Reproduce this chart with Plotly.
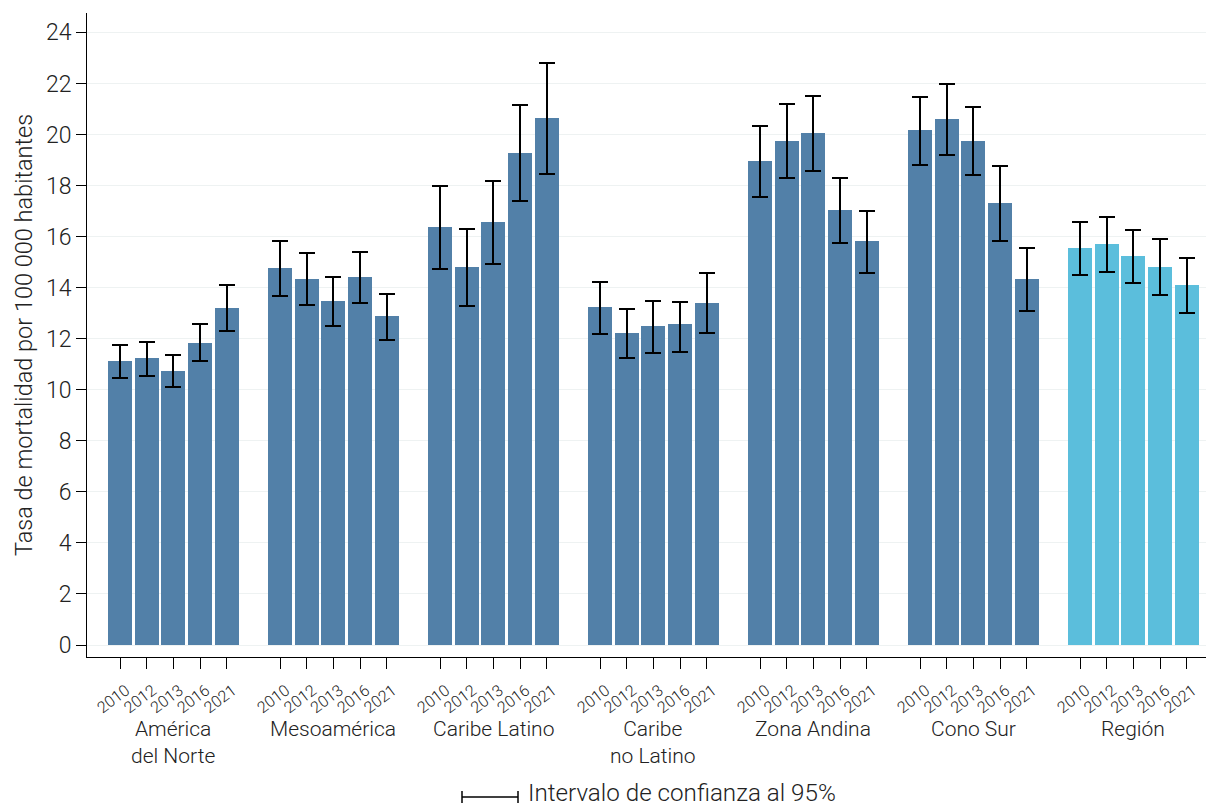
import plotly.graph_objects as go

groups = ["América<br>del Norte", "Mesoamérica", "Caribe Latino", "Caribe<br>no Latino",
          "Zona Andina", "Cono Sur", "Región"]
years = ["2010", "2012", "2013", "2016", "2021"]

rates = [
    [11.12, 11.24, 10.74, 11.84, 13.20],
    [14.76, 14.33, 13.47, 14.41, 12.88],
    [16.37, 14.80, 16.56, 19.26, 20.63],
    [13.23, 12.22, 12.49, 12.57, 13.39],
    [18.95, 19.73, 20.05, 17.03, 15.82],
    [20.16, 20.60, 19.73, 17.30, 14.33],
    [15.54, 15.70, 15.23, 14.80, 14.10],
]
upper = [
    [11.75, 11.88, 11.35, 12.56, 14.11],
    [15.83, 15.34, 14.41, 15.40, 13.77],
    [17.98, 16.30, 18.18, 21.14, 22.79],
    [14.23, 13.17, 13.48, 13.43, 14.58],
    [20.33, 21.19, 21.51, 18.30, 17.00],
    [21.47, 21.98, 21.07, 18.75, 15.56],
    [16.59, 16.77, 16.26, 15.90, 15.16],
]
lower = [
    [10.45, 10.55, 10.10, 11.11, 12.29],
    [13.69, 13.31, 12.50, 13.39, 11.95],
    [14.73, 13.29, 14.94, 17.40, 18.45],
    [12.20, 11.25, 11.45, 11.47, 12.23],
    [17.55, 18.30, 18.56, 15.75, 14.59],
    [18.81, 19.21, 18.40, 15.83, 13.08],
    [14.49, 14.63, 14.20, 13.70, 13.00],
]

DARK = "rgb(82,128,168)"
LIGHT = "rgb(91,190,220)"
FONT = "Roboto"
slot = len(years) + 1

fig = go.Figure()
tickvals, ticktext = [], []
for g, name in enumerate(groups):
    xs = [g * slot + j for j in range(len(years))]
    tickvals += xs
    ticktext += years
    fig.add_trace(go.Bar(
        x=xs, y=rates[g], width=0.9,
        marker=dict(color=LIGHT if g == len(groups) - 1 else DARK, line=dict(width=0)),
        error_y=dict(type="data", symmetric=False,
                     array=[u - r for u, r in zip(upper[g], rates[g])],
                     arrayminus=[r - l for r, l in zip(rates[g], lower[g])],
                     color="black", thickness=2, width=8),
        showlegend=False, hoverinfo="skip",
    ))
    fig.add_annotation(x=g * slot + (len(years) - 1) / 2, y=0, xref="x", yref="paper",
                       yshift=-58, yanchor="top", text=name, showarrow=False,
                       font=dict(family=FONT, size=21, color="#222", weight=300))

# legend for confidence interval
PW, PH = 1119, 644
ly = -140 / PH
fig.add_shape(type="line", xref="paper", yref="paper", x0=(462 - 87) / PW, x1=(518 - 87) / PW,
              y0=ly, y1=ly, line=dict(color="black", width=1.5))
for xp in (462, 518):
    fig.add_shape(type="line", xref="paper", yref="paper", x0=(xp - 87) / PW, x1=(xp - 87) / PW,
                  y0=-134 / PH, y1=-146 / PH, line=dict(color="black", width=1.5))
fig.add_annotation(x=(526 - 87) / PW, y=-136 / PH, xref="paper", yref="paper",
                   xanchor="left", yanchor="middle", showarrow=False,
                   text="Intervalo de confianza al 95%",
                   font=dict(family=FONT, size=24.2, color="#222", weight=300))

fig.update_layout(
    width=1206, height=806,
    margin=dict(l=87, r=0, t=13, b=149),
    plot_bgcolor="white", paper_bgcolor="white",
    bargap=0,
    font=dict(family=FONT, color="#222", weight=300),
    xaxis=dict(range=[-1.24, 40.72], tickvals=tickvals, ticktext=ticktext,
               tickangle=-37, tickfont=dict(size=16, family=FONT, weight=300),
               ticklabelstandoff=6, ticklabelshift=6,
               ticks="outside", ticklen=11, tickcolor="black", tickwidth=1,
               showline=True, linecolor="black", linewidth=1, showgrid=False, zeroline=False),
    yaxis=dict(range=[-0.47, 24.76], tickvals=list(range(0, 25, 2)),
               tickfont=dict(size=23, family=FONT, weight=300),
               ticks="outside", ticklen=10, tickcolor="black", tickwidth=1,
               showline=True, linecolor="black", linewidth=1,
               showgrid=True, gridcolor="#eef2f2", gridwidth=1, zeroline=False,
               title=dict(text="Tasa de mortalidad por 100 000 habitantes",
                          font=dict(size=23.5, family=FONT, weight=300), standoff=6)),
)

fig.write_html("out.html")
